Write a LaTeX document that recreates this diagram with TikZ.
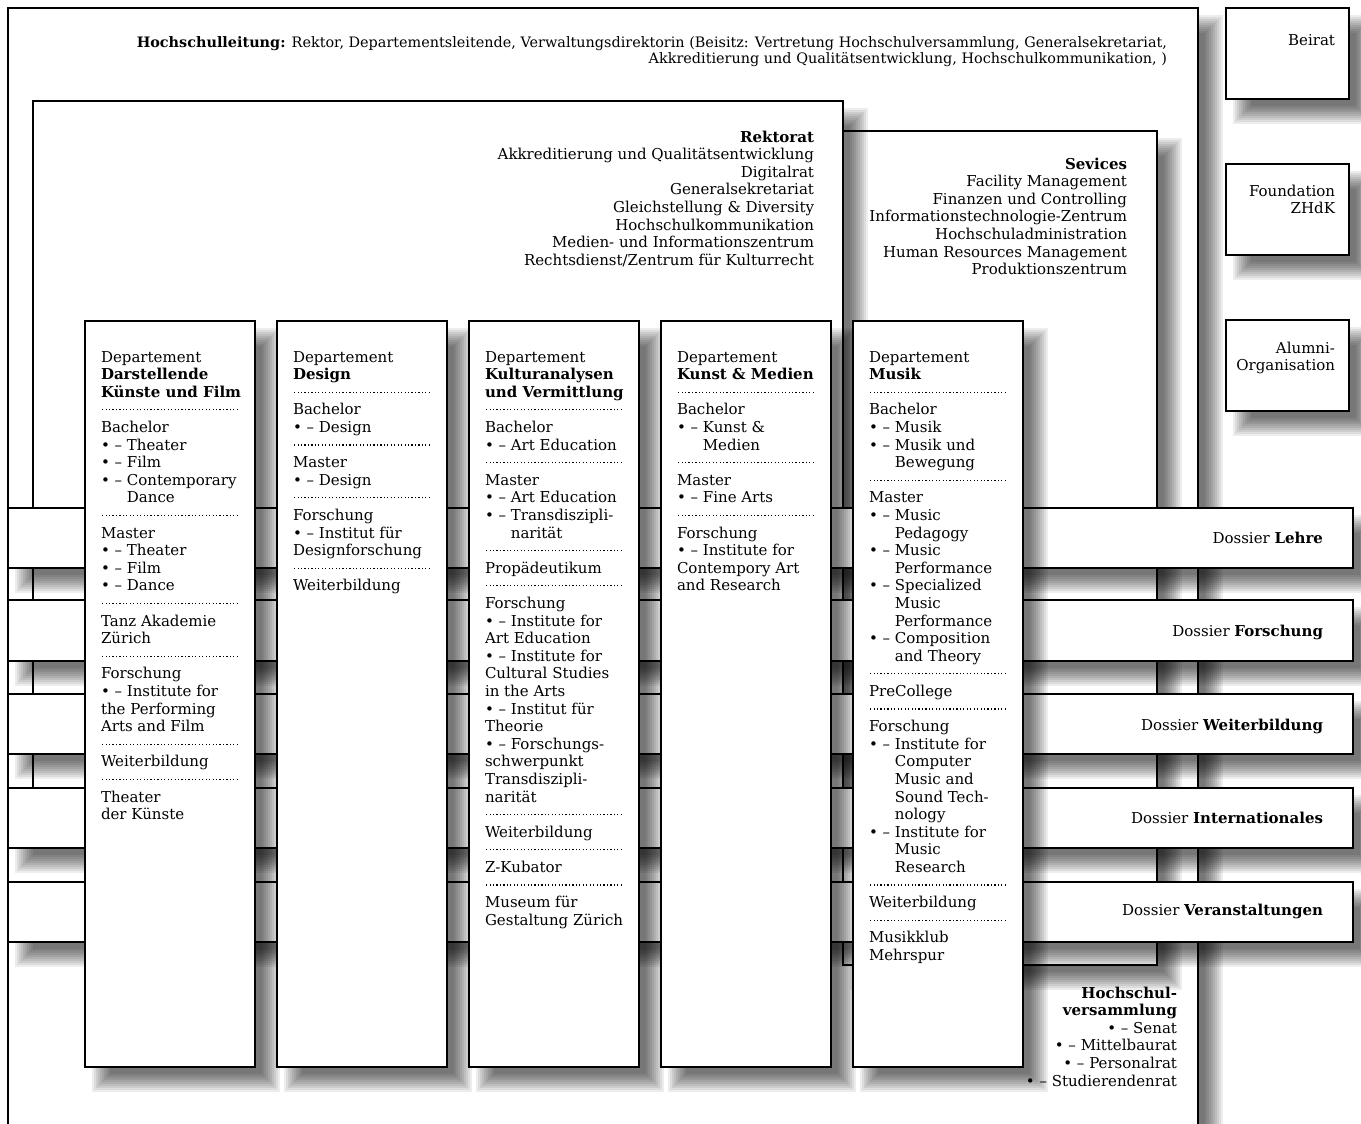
\documentclass[tikz,border=0pt]{standalone}
\usepackage{fontspec}
\setmainfont{DejaVu Serif}
\newcommand\zbl{\textbullet\ –\ }
\newcommand\zind{\hphantom{\zbl}}
\newcommand\zsep{\raisebox{4.5pt}{\leaders\hbox to 3.45pt{\hss\rule{1.2pt}{1.2pt}\hss}\hskip 138pt}}
\tikzset{
  box/.style={draw=black, line width=1.7pt, fill=white, rectangle, inner sep=0pt, outer sep=0pt,
    anchor=north west},
  shadowlayer/.style={fill=black, fill opacity=0.07},
  txt/.style={inner sep=0pt, outer sep=0pt, text=black, font=\fontsize{15}{17.6}\selectfont},
}
% box with a soft drop shadow: name, x, y, width, height (px, y downwards)
\newcommand\zbox[5]{%
  \foreach \r in {-9,-7,...,9}{%
    \fill[shadowlayer] ({#2+16-\r},{#3+16-\r}) rectangle ({#2+#4+16+\r},{#3+#5+16+\r});}
  \node[box, minimum width=#4pt, minimum height=#5pt] (#1) at (#2,#3) {};
}
\begin{document}
\begin{tikzpicture}[x=1pt,y=-1pt]
\useasboundingbox (0,0) rectangle (1361,1124);
\fill[white] (0,0) rectangle (1361,1124);
% outer box
\zbox{hl}{8}{8}{1190}{1200}
\node[txt, align=right, anchor=north east, font=\fontsize{14.4}{16}\selectfont] (hltxt) at (1167,36)
  {\strut\textbf{Hochschulleitung:} Rektor, Departementsleitende, Verwaltungsdirektorin (Beisitz: Vertretung Hochschulversammlung, Generalsekretariat,\\
   Akkreditierung und Qualitätsentwicklung, Hochschulkommunikation, )};
% right column
\zbox{beirat}{1226}{8}{123}{91}
\node[txt, anchor=base east] (beirattxt) at (1335,46) {Beirat};
\zbox{found}{1226}{164}{123}{91}
\node[txt, align=right, anchor=north east] (foundtxt) at (1335,183.7) {\strut Foundation\\ZHdK};
\zbox{alumni}{1226}{320}{123}{91}
\node[txt, align=right, anchor=north east] (alumnitxt) at (1335,340.7) {\strut Alumni-\\Organisation};
% services
\zbox{serv}{843}{131}{314}{834}
\node[txt, align=right, anchor=north east] (servtxt) at (1127,156.7)
  {\strut\textbf{Sevices}\\Facility Management\\Finanzen und Controlling\\Informationstechnologie-Zentrum\\Hochschuladministration\\Human Resources Management\\Produktionszentrum};
% rektorat
\zbox{rek}{33}{101}{810}{699}
\node[txt, align=right, anchor=north east] (rektxt) at (814,129.7)
  {\strut\textbf{Rektorat}\\Akkreditierung und Qualitätsentwicklung\\Digitalrat\\Generalsekretariat\\Gleichstellung \& Diversity\\Hochschulkommunikation\\Medien- und Informationszentrum\\Rechtsdienst/Zentrum für Kulturrecht};
% dossiers
\zbox{dlehre}{8}{508}{1345}{60}
\node[txt, anchor=base east] (dlehretxt) at (1323,543) {Dossier \textbf{Lehre}};
\zbox{dforsch}{8}{600}{1345}{61}
\node[txt, anchor=base east] (dforschtxt) at (1323,636) {Dossier \textbf{Forschung}};
\zbox{dweiter}{8}{694}{1345}{60}
\node[txt, anchor=base east] (dweitertxt) at (1323,730) {Dossier \textbf{Weiterbildung}};
\zbox{dinter}{8}{788}{1345}{60}
\node[txt, anchor=base east] (dintertxt) at (1323,823) {Dossier \textbf{Internationales}};
\zbox{dveran}{8}{882}{1345}{60}
\node[txt, anchor=base east] (dverantxt) at (1323,915) {Dossier \textbf{Veranstaltungen}};
% departements
\zbox{dep1}{85}{321}{170}{746}
\node[txt, align=left, anchor=north west] (dep1txt) at (101,349.7)
  {\strut Departement\\\textbf{Darstellende}\\\textbf{Künste und Film}\\\zsep\\
   Bachelor\\\zbl Theater\\\zbl Film\\\zbl Contemporary\\\zind Dance\\\zsep\\
   Master\\\zbl Theater\\\zbl Film\\\zbl Dance\\\zsep\\
   Tanz Akademie\\Zürich\\\zsep\\
   Forschung\\\zbl Institute for\\the Performing\\Arts and Film\\\zsep\\
   Weiterbildung\\\zsep\\Theater\\der Künste};
\zbox{dep2}{277}{321}{170}{746}
\node[txt, align=left, anchor=north west] (dep2txt) at (293,349.7)
  {\strut Departement\\\textbf{Design}\\\zsep\\
   Bachelor\\\zbl Design\\\zsep\\
   Master\\\zbl Design\\\zsep\\
   Forschung\\\zbl Institut für\\Designforschung\\\zsep\\
   Weiterbildung};
\zbox{dep3}{469}{321}{170}{746}
\node[txt, align=left, anchor=north west] (dep3txt) at (485,349.7)
  {\strut Departement\\\textbf{Kulturanalysen}\\\textbf{und Vermittlung}\\\zsep\\
   Bachelor\\\zbl Art Education\\\zsep\\
   Master\\\zbl Art Education\\\zbl Transdiszipli-\\\zind narität\\\zsep\\
   Propädeutikum\\\zsep\\
   Forschung\\\zbl Institute for\\Art Education\\\zbl Institute for\\Cultural Studies\\in the Arts\\\zbl Institut für\\Theorie\\\zbl Forschungs-\\schwerpunkt\\Transdiszipli-\\narität\\\zsep\\
   Weiterbildung\\\zsep\\Z-Kubator\\\zsep\\Museum für\\Gestaltung Zürich};
\zbox{dep4}{661}{321}{170}{746}
\node[txt, align=left, anchor=north west] (dep4txt) at (677,349.7)
  {\strut Departement\\\textbf{Kunst \& Medien}\\\zsep\\
   Bachelor\\\zbl Kunst \&\\\zind Medien\\\zsep\\
   Master\\\zbl Fine Arts\\\zsep\\
   Forschung\\\zbl Institute for\\Contempory Art\\and Research};
\zbox{dep5}{853}{321}{170}{746}
\node[txt, align=left, anchor=north west] (dep5txt) at (869,349.7)
  {\strut Departement\\\textbf{Musik}\\\zsep\\
   Bachelor\\\zbl Musik\\\zbl Musik und\\\zind Bewegung\\\zsep\\
   Master\\\zbl Music\\\zind Pedagogy\\\zbl Music\\\zind Performance\\\zbl Specialized\\\zind Music\\\zind Performance\\\zbl Composition\\\zind and Theory\\\zsep\\
   PreCollege\\\zsep\\
   Forschung\\\zbl Institute for\\\zind Computer\\\zind Music and\\\zind Sound Tech-\\\zind nology\\\zbl Institute for\\\zind Music\\\zind Research\\\zsep\\
   Weiterbildung\\\zsep\\Musikklub\\Mehrspur};
% Hochschulversammlung
\node[txt, align=right, anchor=north east] (hsv) at (1177,985.7)
  {\strut\textbf{Hochschul-}\\\textbf{versammlung}\\\zbl Senat\\\zbl Mittelbaurat\\\zbl Personalrat\\\zbl Studierendenrat};
\end{tikzpicture}
\end{document}
